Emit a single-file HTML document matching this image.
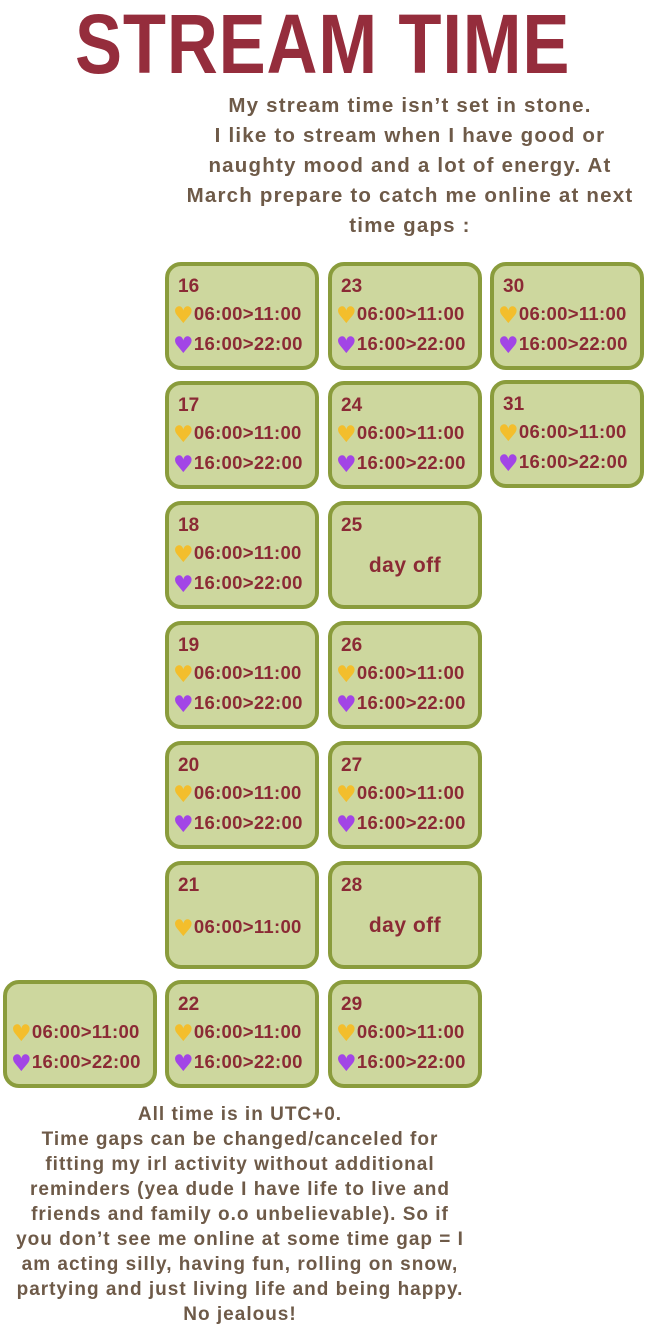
<!DOCTYPE html>
<html><head><meta charset="utf-8"><style>
html,body{margin:0;padding:0;background:#fff;}
body{width:651px;height:1333px;position:relative;overflow:hidden;font-family:"Liberation Sans",sans-serif;}
.title{position:absolute;left:75px;top:4px;font-weight:bold;font-size:84px;line-height:80px;color:#952d3c;white-space:nowrap;transform:scaleX(0.84);transform-origin:left top;letter-spacing:1px;}
.p{position:absolute;color:#6e5a48;font-weight:bold;text-align:center;white-space:nowrap;}
.p div{height:30px;}
.b{position:absolute;width:146px;height:100px;background:#cdd79e;border:4px solid #8a9c3c;border-radius:16px;color:#8b2a35;font-weight:bold;}
.d{position:absolute;left:9px;top:10px;font-size:19px;}
.t{position:absolute;left:4px;font-size:18.5px;white-space:nowrap;letter-spacing:0.3px;}
.t1{top:37px}.t2{top:67px}
.h{font-family:"DejaVu Sans",sans-serif;font-size:23px;vertical-align:-3px;}
.y{color:#f3be2c}.v{color:#a245e6}
.off{position:absolute;left:0;right:0;top:49px;text-align:center;font-size:21px;letter-spacing:0.5px;}
</style></head><body>
<div class="title">STREAM TIME</div>
<div class="p" style="left:170px;width:480px;top:91px;font-size:20.5px;letter-spacing:1.2px;line-height:30px;">
<div>My stream time isn’t set in stone.</div>
<div>I like to stream when I have good or</div>
<div>naughty mood and a lot of energy. At</div>
<div>March prepare to catch me online at next</div>
<div>time gaps :</div>
</div>

<div class="b" style="left:165px;top:262px"><div class="d">16</div><div class="t t1"><span class="h y">♥</span>06:00&gt;11:00</div><div class="t t2"><span class="h v">♥</span>16:00&gt;22:00</div></div>
<div class="b" style="left:328px;top:262px"><div class="d">23</div><div class="t t1"><span class="h y">♥</span>06:00&gt;11:00</div><div class="t t2"><span class="h v">♥</span>16:00&gt;22:00</div></div>
<div class="b" style="left:490px;top:262px"><div class="d">30</div><div class="t t1"><span class="h y">♥</span>06:00&gt;11:00</div><div class="t t2"><span class="h v">♥</span>16:00&gt;22:00</div></div>

<div class="b" style="left:165px;top:381px"><div class="d">17</div><div class="t t1"><span class="h y">♥</span>06:00&gt;11:00</div><div class="t t2"><span class="h v">♥</span>16:00&gt;22:00</div></div>
<div class="b" style="left:328px;top:381px"><div class="d">24</div><div class="t t1"><span class="h y">♥</span>06:00&gt;11:00</div><div class="t t2"><span class="h v">♥</span>16:00&gt;22:00</div></div>
<div class="b" style="left:490px;top:380px"><div class="d">31</div><div class="t t1"><span class="h y">♥</span>06:00&gt;11:00</div><div class="t t2"><span class="h v">♥</span>16:00&gt;22:00</div></div>

<div class="b" style="left:165px;top:501px"><div class="d">18</div><div class="t t1"><span class="h y">♥</span>06:00&gt;11:00</div><div class="t t2"><span class="h v">♥</span>16:00&gt;22:00</div></div>
<div class="b" style="left:328px;top:501px"><div class="d">25</div><div class="off">day off</div></div>

<div class="b" style="left:165px;top:621px"><div class="d">19</div><div class="t t1"><span class="h y">♥</span>06:00&gt;11:00</div><div class="t t2"><span class="h v">♥</span>16:00&gt;22:00</div></div>
<div class="b" style="left:328px;top:621px"><div class="d">26</div><div class="t t1"><span class="h y">♥</span>06:00&gt;11:00</div><div class="t t2"><span class="h v">♥</span>16:00&gt;22:00</div></div>

<div class="b" style="left:165px;top:741px"><div class="d">20</div><div class="t t1"><span class="h y">♥</span>06:00&gt;11:00</div><div class="t t2"><span class="h v">♥</span>16:00&gt;22:00</div></div>
<div class="b" style="left:328px;top:741px"><div class="d">27</div><div class="t t1"><span class="h y">♥</span>06:00&gt;11:00</div><div class="t t2"><span class="h v">♥</span>16:00&gt;22:00</div></div>

<div class="b" style="left:165px;top:861px"><div class="d">21</div><div class="t" style="top:51px"><span class="h y">♥</span>06:00&gt;11:00</div></div>
<div class="b" style="left:328px;top:861px"><div class="d">28</div><div class="off">day off</div></div>

<div class="b" style="left:3px;top:980px"><div class="t" style="top:37px"><span class="h y">♥</span>06:00&gt;11:00</div><div class="t" style="top:67px"><span class="h v">♥</span>16:00&gt;22:00</div></div>
<div class="b" style="left:165px;top:980px"><div class="d">22</div><div class="t t1"><span class="h y">♥</span>06:00&gt;11:00</div><div class="t t2"><span class="h v">♥</span>16:00&gt;22:00</div></div>
<div class="b" style="left:328px;top:980px"><div class="d">29</div><div class="t t1"><span class="h y">♥</span>06:00&gt;11:00</div><div class="t t2"><span class="h v">♥</span>16:00&gt;22:00</div></div>

<div class="p" style="left:0;width:480px;top:1102px;font-size:19px;letter-spacing:1px;line-height:25px;">
<div style="height:25px">All time is in UTC+0.</div>
<div style="height:25px">Time gaps can be changed/canceled for</div>
<div style="height:25px">fitting my irl activity  without additional</div>
<div style="height:25px">reminders (yea dude I have life to live and</div>
<div style="height:25px">friends and family o.o unbelievable). So if</div>
<div style="height:25px">you don’t see me online at some time gap = I</div>
<div style="height:25px">am acting silly, having fun, rolling on snow,</div>
<div style="height:25px">partying and just living life and being happy.</div>
<div style="height:25px">No jealous!</div>
</div>
</body></html>
